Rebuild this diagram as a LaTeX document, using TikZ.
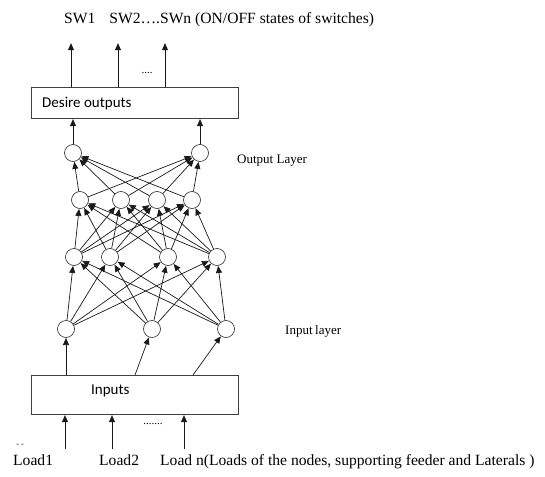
\documentclass[tikz,border=0pt]{standalone}
\usepackage{fontspec}
\setmainfont{Liberation Serif}
\newfontfamily\calib{Carlito}
\usetikzlibrary{arrows.meta}
\begin{document}
\begin{tikzpicture}[x=1pt,y=-1pt,
  neuron/.style={circle,draw=black!85,fill=white,minimum size=17pt,inner sep=0pt,line width=0.6pt},
  conn/.style={-{Triangle[length=7pt,width=6pt]},line width=0.7pt,draw=black!90,shorten >=0.2pt},
  boxnode/.style={draw=black!75,line width=0.9pt,anchor=north west,inner sep=0pt},
  serif15/.style={font=\fontsize{15.6}{17}\selectfont,inner sep=0pt,anchor=base west},
  serif13/.style={font=\fontsize{13}{15}\selectfont,inner sep=0pt,anchor=base west},
  sans15/.style={font=\calib\fontsize{15}{17}\selectfont,inner sep=0pt,anchor=base west}]
\useasboundingbox (0,0) rectangle (545,476);

% top label
\node[serif15] (swtext) at (64,24) {SW1\hspace{14pt}SW2….SWn (ON/OFF states of switches)};

% desire outputs box
\node[boxnode,minimum width=207pt,minimum height=31pt] (outbox) at (31,87) {};
\node[sans15] (outtext) at (42,107) {Desire outputs};

\coordinate (t1) at (71,43);
\coordinate (t2) at (118,43);
\coordinate (t3) at (165,43);
\draw[conn] (outbox.north -| t1) -- (t1);
\draw[conn] (outbox.north -| t2) -- (t2);
\draw[conn] (outbox.north -| t3) -- (t3);
\node[font=\fontsize{11}{13}\selectfont,inner sep=0pt] (tdots) at (147,73) {....};

% neurons
\node[neuron] (o1) at (73,153) {};
\node[neuron] (o2) at (200,153) {};
\node[neuron] (h21) at (80,200) {};
\node[neuron] (h22) at (121,200) {};
\node[neuron] (h23) at (157,200) {};
\node[neuron] (h24) at (192,200) {};
\node[neuron] (h11) at (74,257) {};
\node[neuron] (h12) at (110,257) {};
\node[neuron] (h13) at (168,257) {};
\node[neuron] (h14) at (217,257) {};
\node[neuron] (i1) at (66,329) {};
\node[neuron] (i2) at (152,329) {};
\node[neuron] (i3) at (226,329) {};

\draw[conn] (o1) -- (o1 |- outbox.south);
\draw[conn] (o2) -- (o2 |- outbox.south);

\foreach \a in {h21,h22,h23,h24}
  \foreach \b in {o1,o2}
    \draw[conn] (\a) -- (\b);
\foreach \a in {h11,h12,h13,h14}
  \foreach \b in {h21,h22,h23,h24}
    \draw[conn] (\a) -- (\b);
\foreach \a in {i1,i2,i3}
  \foreach \b in {h11,h12,h13,h14}
    \draw[conn] (\a) -- (\b);

\node[serif13] (outlayer) at (237,163) {Output Layer};
\node[serif13] (inlayer) at (285,334) {Input\hspace{2.5pt}layer};

% inputs box
\node[boxnode,minimum width=207pt,minimum height=39pt] (inbox) at (31,375) {};
\node[sans15] (intext) at (91,394) {Inputs};

\coordinate (b1) at (66,375);
\coordinate (b2) at (135,375);
\coordinate (b3) at (193,375);
\draw[conn] (b1) -- (i1);
\draw[conn] (b2) -- (i2);
\draw[conn] (b3) -- (i3);

% bottom inputs
\coordinate (l1) at (65,449);
\coordinate (l2) at (112,449);
\coordinate (l3) at (184,449);
\draw[conn] (l1) -- (l1 |- inbox.south);
\draw[conn] (l2) -- (l2 |- inbox.south);
\draw[conn] (l3) -- (l3 |- inbox.south);
\node[font=\fontsize{11}{13}\selectfont,inner sep=0pt] (bdots) at (153,424) {.......};
\node[font=\fontsize{8}{10}\selectfont,inner sep=0pt] (dash) at (20,445) {- -};

\node[serif15] (load1) at (13,465) {Load1};
\node[serif15] (load2) at (99,465) {Load2};
\node[serif15] (loadn) at (160,465) {Load n(Loads of the nodes, supporting feeder and Laterals )};
\end{tikzpicture}
\end{document}
